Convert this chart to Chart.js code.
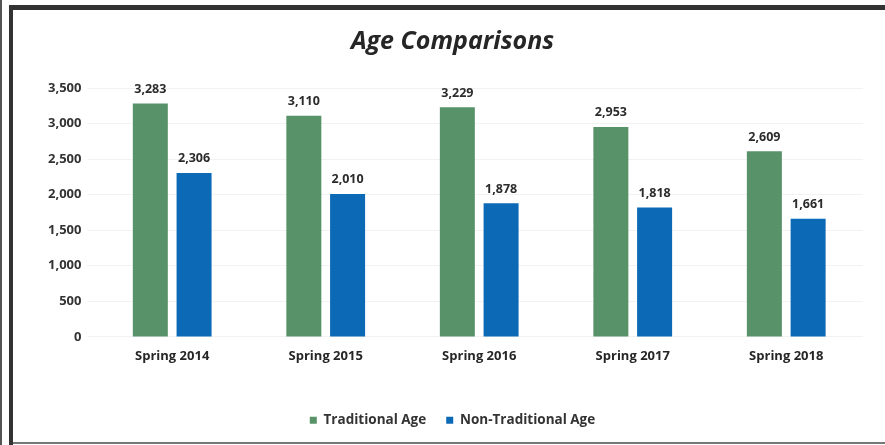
<!DOCTYPE html>
<html>
<head>
<meta charset="utf-8">
<script src="https://cdn.jsdelivr.net/npm/chart.js@4"></script>
<style>
  html, body { margin: 0; padding: 0; background: #fff; }
  body { width: 885px; height: 445px; position: relative; overflow: hidden; }
  .line { position: absolute; background: #333; }
  #wrap { position: absolute; left: 13px; top: 10px; width: 872px; height: 432px; }
</style>
</head>
<body>
<div class="line" style="left:0;top:0;width:2px;height:445px;background:#555"></div>
<div class="line" style="left:9px;top:5px;width:4px;height:440px"></div>
<div class="line" style="left:9px;top:5px;width:876px;height:5px"></div>
<div class="line" style="left:13px;top:442px;width:872px;height:2px;background:#777"></div>
<div id="wrap"><canvas id="chart"></canvas></div>
<script>
  // data
  const categories = ['Spring 2014', 'Spring 2015', 'Spring 2016', 'Spring 2017', 'Spring 2018'];
  const traditional = [3283, 3110, 3229, 2953, 2609];
  const nonTraditional = [2306, 2010, 1878, 1818, 1661];
  const yTicks = [0, 500, 1000, 1500, 2000, 2500, 3000, 3500];

  const fontFamily = '"Open Sans", Lato, sans-serif';

  // value labels over the bars
  const barLabels = {
    id: 'barLabels',
    afterDatasetsDraw(chart) {
      const ctx = chart.ctx;
      ctx.save();
      ctx.font = 'bold 12.5px ' + fontFamily;
      ctx.fillStyle = '#2b2b2b';
      ctx.textAlign = 'center';
      ctx.textBaseline = 'bottom';
      chart.data.datasets.forEach((ds, i) => {
        chart.getDatasetMeta(i).data.forEach((bar, j) => {
          ctx.fillText(ds.data[j].toLocaleString('en-US'), bar.x, bar.y - 8);
        });
      });
      ctx.restore();
    }
  };

  new Chart(document.getElementById('chart'), {
    type: 'bar',
    data: {
      labels: categories,
      datasets: [
        {
          label: 'Traditional Age',
          data: traditional,
          backgroundColor: '#589268',
          barPercentage: 0.8,
          categoryPercentage: 0.57,
        },
        {
          label: 'Non-Traditional Age',
          data: nonTraditional,
          backgroundColor: '#0b69b6',
          barPercentage: 0.8,
          categoryPercentage: 0.57,
        },
      ],
    },
    options: {
      responsive: true,
      maintainAspectRatio: false,
      animation: false,
      layout: { padding: { top: 12, right: 22, bottom: 5, left: 29 } },
      plugins: {
        title: {
          display: true,
          text: 'Age Comparisons',
          color: '#262626',
          font: { family: fontFamily, size: 25, weight: 'bold', style: 'italic' },
          padding: { top: 5, bottom: 31 },
        },
        legend: {
          position: 'bottom',
          labels: {
            boxWidth: 7,
            boxHeight: 7,
            color: '#333',
            padding: 20,
            font: { family: fontFamily, size: 13.5, weight: 'bold' },
          },
        },
        tooltip: { enabled: false },
      },
      scales: {
        x: {
          grid: { display: false },
          border: { display: false },
          afterFit(scale) { scale.height += 25; },
          ticks: {
            color: '#262626',
            padding: 4,
            font: { family: fontFamily, size: 13, weight: 'bold' },
          },
        },
        y: {
          min: 0,
          max: 3500,
          afterBuildTicks(axis) {
            axis.ticks = yTicks.map(v => ({ value: v }));
          },
          grid: { color: 'rgba(0,0,0,0.05)' },
          border: { display: false },
          ticks: {
            color: '#333',
            padding: 6,
            font: { family: fontFamily, size: 13, weight: 'bold' },
            callback: v => v.toLocaleString('en-US'),
          },
        },
      },
    },
    plugins: [barLabels],
  });
</script>
</body>
</html>
